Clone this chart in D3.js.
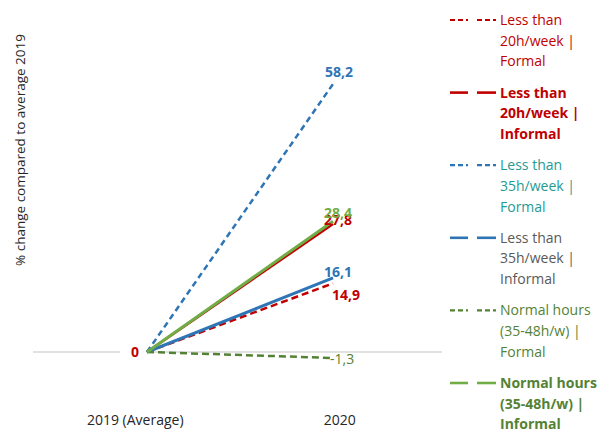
<!DOCTYPE html>
<html><head><meta charset="utf-8">
<script src="https://cdn.jsdelivr.net/npm/d3@7"></script>
<style>body{margin:0;background:#fff}svg{display:block}text{font-family:"Open Sans","Liberation Sans",Arial,sans-serif}</style>
</head><body><svg id="c" width="609" height="432"></svg>
<script>
const categories = ["2019 (Average)", "2020"];
const seriesNames = [
  "Less than 20h/week | Formal",
  "Less than 20h/week | Informal",
  "Less than 35h/week | Formal",
  "Less than 35h/week | Informal",
  "Normal hours (35-48h/w) | Formal",
  "Normal hours (35-48h/w) | Informal"
];
const values2019 = [0, 0, 0, 0, 0, 0];
const values2020 = [14.9, 27.8, 58.2, 16.1, -1.3, 28.4];
const labels2020 = ["14,9", "27,8", "58,2", "16,1", "-1,3", "28,4"];
const legendLines = [
  ["Less than", "20h/week |", "Formal"],
  ["Less than", "20h/week |", "Informal"],
  ["Less than", "35h/week |", "Formal"],
  ["Less than", "35h/week |", "Informal"],
  ["Normal hours", "(35-48h/w) |", "Formal"],
  ["Normal hours", "(35-48h/w) |", "Informal"]
];

const styles = [
  {color:"#C00000", dash:"7,4", w:2.5, text:"#C00000", bold:false, lblBold:true, lblColor:"#C00000", dx:13, dy:12, anchor:"middle"},
  {color:"#C00000", dash:null, w:2.5, text:"#C00000", bold:true, lblBold:true, lblColor:"#C00000", dx:5, dy:-4, anchor:"middle"},
  {color:"#2E75B6", dash:"6,4", w:2.5, text:"#1F9A94", bold:false, lblBold:true, lblColor:"#2E75B6", dx:6, dy:-12, anchor:"middle"},
  {color:"#2E75B6", dash:null, w:3, text:"#595959", bold:false, lblBold:true, lblColor:"#2E75B6", dx:5, dy:-6, anchor:"middle"},
  {color:"#548235", dash:"7,4", w:2.5, text:"#548235", bold:false, lblBold:false, lblColor:"#548235", dx:-3, dy:1, anchor:"start"},
  {color:"#70AD47", dash:null, w:3, text:"#548235", bold:true, lblBold:true, lblColor:"#70AD47", dx:5, dy:-8, anchor:"middle"}
];

const svg = d3.select("#c");
const y = d3.scaleLinear().domain([0, 58.2]).range([352, 84]);
const xBand = d3.scaleBand().domain(categories).range([33, 442]);
const xPt = d3.scalePoint().domain(categories).range([147, 333]);

svg.append("line").attr("x1", 33).attr("x2", 442).attr("y1", y(0)).attr("y2", y(0))
  .attr("stroke", "#D9D9D9").attr("stroke-width", 1.3);
svg.append("rect").attr("x", 120).attr("y", y(0)-6).attr("width", 26).attr("height", 12).attr("fill", "#fff");

const xAxis = d3.axisBottom(xBand).tickSize(0).tickPadding(0);
const ax = svg.append("g").attr("transform", "translate(0,415)").call(xAxis);
ax.select(".domain").remove();
ax.selectAll("text").attr("font-size", 14).attr("fill", "#262626")
  .attr("font-family", "'Open Sans','Liberation Sans',Arial,sans-serif");

svg.append("text").attr("transform", "translate(25,150) rotate(-90)")
  .attr("text-anchor", "middle").attr("font-size", 13.5).attr("fill", "#262626")
  .text("% change compared to average 2019");

const line = d3.line().x(d => xPt(d.c)).y(d => y(d.v));
seriesNames.forEach((n, i) => {
  const s = styles[i];
  const pts = [{c: categories[0], v: values2019[i]}, {c: categories[1], v: values2020[i]}];
  svg.append("path").attr("d", line(pts)).attr("fill", "none")
    .attr("stroke", s.color).attr("stroke-width", s.w)
    .attr("stroke-dasharray", s.dash);
});

seriesNames.forEach((n, i) => {
  const s = styles[i];
  svg.append("text").attr("x", xPt(categories[1]) + s.dx).attr("y", y(values2020[i]) + s.dy)
    .attr("dy", "0.35em").attr("text-anchor", s.anchor)
    .attr("font-size", 14).attr("font-weight", s.lblBold ? "bold" : "normal")
    .attr("fill", s.lblColor).text(labels2020[i]);
});
svg.append("text").attr("x", xPt(categories[0]) - 12).attr("y", y(values2019[1]))
  .attr("dy", "0.35em").attr("text-anchor", "middle").attr("font-size", 14)
  .attr("font-weight", "bold").attr("fill", "#C00000").text("0");

const lg = svg.append("g");
seriesNames.forEach((n, i) => {
  const s = styles[i];
  const top = 20 + i * 72.6;
  [[450, 468], [477, 496]].forEach(([a, b]) => {
    lg.append("line").attr("x1", a).attr("x2", b).attr("y1", top).attr("y2", top)
      .attr("stroke", s.color).attr("stroke-width", s.dash ? 2.2 : 2.6)
      .attr("stroke-dasharray", s.dash ? "5,3" : null);
  });
  legendLines[i].forEach((t, j) => {
    lg.append("text").attr("x", 500).attr("y", top + j * 20.7).attr("dy", "0.35em")
      .attr("font-size", 14).attr("font-weight", s.bold ? "bold" : "normal")
      .attr("fill", s.text).text(t);
  });
});
</script></body></html>
